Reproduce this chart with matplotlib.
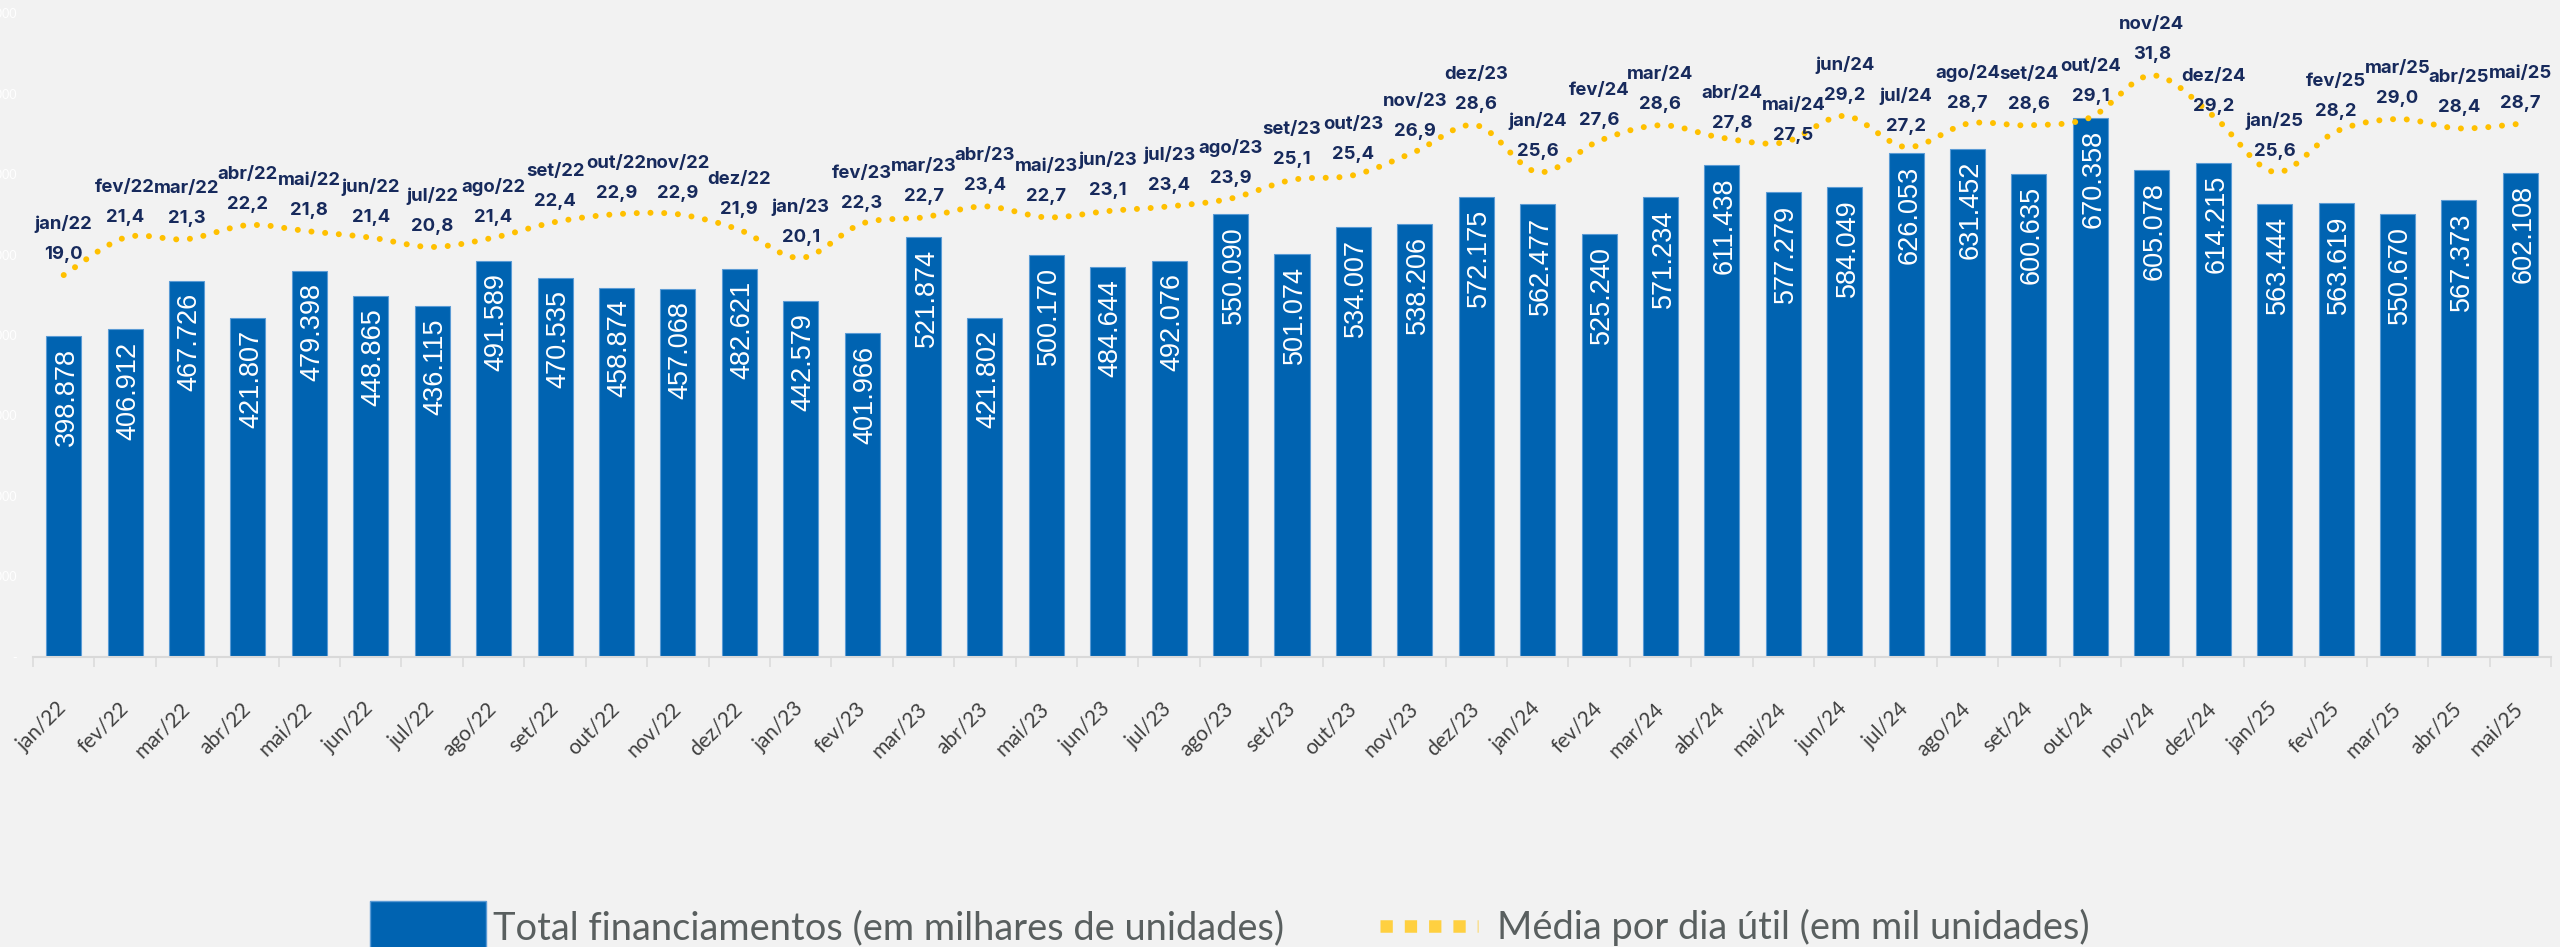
import matplotlib
matplotlib.use("Agg")
import matplotlib.pyplot as plt
import numpy as np
from matplotlib.path import Path
from matplotlib.patches import PathPatch, Rectangle
from matplotlib.lines import Line2D
import matplotlib.transforms as mtransforms

# ---------------- data ----------------
months = ["jan/22", "fev/22", "mar/22", "abr/22", "mai/22", "jun/22", "jul/22", "ago/22",
          "set/22", "out/22", "nov/22", "dez/22",
          "jan/23", "fev/23", "mar/23", "abr/23", "mai/23", "jun/23", "jul/23", "ago/23",
          "set/23", "out/23", "nov/23", "dez/23",
          "jan/24", "fev/24", "mar/24", "abr/24", "mai/24", "jun/24", "jul/24", "ago/24",
          "set/24", "out/24", "nov/24", "dez/24",
          "jan/25", "fev/25", "mar/25", "abr/25", "mai/25"]

total_financiamentos = [398878, 406912, 467726, 421807, 479398, 448865, 436115, 491589,
                        470535, 458874, 457068, 482621,
                        442579, 401966, 521874, 421802, 500170, 484644, 492076, 550090,
                        501074, 534007, 538206, 572175,
                        562477, 525240, 571234, 611438, 577279, 584049, 626053, 631452,
                        600635, 670358, 605078, 614215,
                        563444, 563619, 550670, 567373, 602108]

media_dia_util = [19.0, 21.4, 21.3, 22.2, 21.8, 21.4, 20.8, 21.4, 22.4, 22.9, 22.9, 21.9,
                  20.1, 22.3, 22.7, 23.4, 22.7, 23.1, 23.4, 23.9, 25.1, 25.4, 26.9, 28.6,
                  25.6, 27.6, 28.6, 27.8, 27.5, 29.2, 27.2, 28.7, 28.6, 29.1, 31.8, 29.2,
                  25.6, 28.2, 29.0, 28.4, 28.7]

y_ticks = [0, 100000, 200000, 300000, 400000, 500000, 600000, 700000, 800000]

legend_labels = ["Total financiamentos (em milhares de unidades)",
                 "Média por dia útil (em mil unidades)"]

# manual nudges (pixels: right, down) of a few line labels, as in the reference
label_nudges = {"abr/24": (10, 6), "mai/24": (10, 14), "dez/24": (0, 11)}

# ---------------- style ----------------
BG = "#f2f2f2"
BAR = "#0063b1"
BAR_EDGE = "#5b9bd5"
GOLD = "#ffc000"
NAVY = "#172a5c"
GRAY_TXT = "#404040"
W, H = 2560, 947
PX = 0.72  # points per pixel at dpi 100


def thousands(v):
    return "-" if v == 0 else f"{v:,.0f}".replace(",", ".")


fig = plt.figure(figsize=(W / 100, H / 100), dpi=100, facecolor=BG)
ax_left, ax_right, ax_base, ax_top = 33, 2551, 656.7, 13.4
ax = fig.add_axes([ax_left / W, (H - ax_base) / H, (ax_right - ax_left) / W, (ax_base - ax_top) / H])
ax.set_facecolor(BG)

x = np.arange(len(months))
ax.bar(x, total_financiamentos, width=0.57, color=BAR, edgecolor=BAR_EDGE,
       linewidth=0.8, zorder=2)
ax.set_xlim(-0.5, len(months) - 0.5)
ax.set_ylim(0, 800000)

for s in ["top", "right", "left"]:
    ax.spines[s].set_visible(False)
ax.spines["bottom"].set_color("#d9d9d9")
ax.spines["bottom"].set_linewidth(1.5)

# x ticks
ax.set_xticks(x)
ax.set_xticklabels(months, fontsize=15, color=GRAY_TXT, family=["Lato", "DejaVu Sans"])
ax.tick_params(axis="x", which="major", length=0, pad=53 * PX)
ax.set_xticks(np.arange(-0.5, len(months)), minor=True)
ax.tick_params(axis="x", which="minor", length=10 * PX, width=1.5 * PX, color="#d9d9d9")

# y ticks (white, nearly invisible, cut at the figure edge as in the reference)
ax.set_yticks(y_ticks)
ax.set_yticklabels([thousands(v) for v in y_ticks], fontsize=9, color="white",
                   family=["Lato", "DejaVu Sans"])
ax.tick_params(axis="y", length=0, pad=16 * PX)

# bar value labels
for xi, v in zip(x, total_financiamentos):
    ax.annotate(thousands(v), (xi, v), xytext=(3, -12), textcoords="offset pixels",
                rotation=90, ha="center", va="top", color="white", fontsize=19.5,
                family=["Liberation Sans", "DejaVu Sans"], zorder=3)

# ---------------- secondary axis: smoothed dotted line ----------------
ax2 = ax.twinx()
ax2.set_ylim(-5.46, 35.77)
ax2.axis("off")
ax2.set_xlim(ax.get_xlim())

pts = np.column_stack([x, media_dia_util]).astype(float)
n = len(pts)
verts = [pts[0]]
codes = [Path.MOVETO]
for i in range(n - 1):
    p0 = pts[i - 1] if i > 0 else pts[i]
    p1, p2 = pts[i], pts[i + 1]
    p3 = pts[i + 2] if i + 2 < n else pts[i + 1]
    verts += [p1 + (p2 - p0) / 6, p2 - (p3 - p1) / 6, p2]
    codes += [Path.CURVE4] * 3
curve = PathPatch(Path(verts, codes), fill=False, edgecolor=GOLD, linewidth=6 * PX,
                  linestyle=(0, (0.01, 2.28)), capstyle="round", zorder=4)
ax2.add_patch(curve)

lbl_font = dict(fontsize=13.3, fontweight="bold", color=NAVY, family=["Inter", "DejaVu Sans"],
                ha="center", va="baseline", zorder=5)
for xi, v, m in zip(x, media_dia_util, months):
    dx, dy = label_nudges.get(m, (0, 0))
    ax2.annotate(f"{v:.1f}".replace(".", ","), (xi, v), xytext=(dx, 16 - dy),
                 textcoords="offset pixels", **lbl_font)
    ax2.annotate(m, (xi, v), xytext=(dx, 46 - dy), textcoords="offset pixels", **lbl_font)

# ---------------- legend (drawn manually) ----------------
fig.add_artist(Rectangle((370 / W, -10 / H), 116 / W, (H - 901 + 10) / H,
                         transform=fig.transFigure, facecolor=BAR, edgecolor=BAR_EDGE,
                         linewidth=1))
leg_font = dict(fontsize=22.5, color="#595f5f", family=["Lato", "DejaVu Sans"],
                va="baseline", ha="left")
t1 = fig.text(493 / W, (H - 939) / H, legend_labels[0], **leg_font)
fig.add_artist(Line2D([1380 / W, 1478 / W], [(H - 926) / H] * 2, transform=fig.transFigure,
                      color="#ffd040", linewidth=12.5 * PX,
                      linestyle=(0, (12.3 / 12.5, 12 / 12.5)), solid_capstyle="butt",
                      dash_capstyle="butt"))
t2 = fig.text(1497 / W, (H - 939) / H, legend_labels[1], **leg_font)

# fit legend text widths to the reference; fix tick-label rotation anchoring
fig.canvas.draw()
r = fig.canvas.get_renderer()
for t, target in [(t1, 1285 - 493), (t2, 2090 - 1497)]:
    wpx = t.get_window_extent(r).width
    t.set_fontsize(t.get_fontsize() * target / wpx)

offset = mtransforms.ScaledTranslation(4 / 100, 0, fig.dpi_scale_trans)
for lab in ax.get_xticklabels():
    lab.set_rotation(45)
    lab.set_rotation_mode("anchor")
    lab.set_horizontalalignment("right")
    lab.set_verticalalignment("baseline")
    lab.set_transform(lab.get_transform() + offset)

fig.savefig("out.png", dpi=100, facecolor=BG)
